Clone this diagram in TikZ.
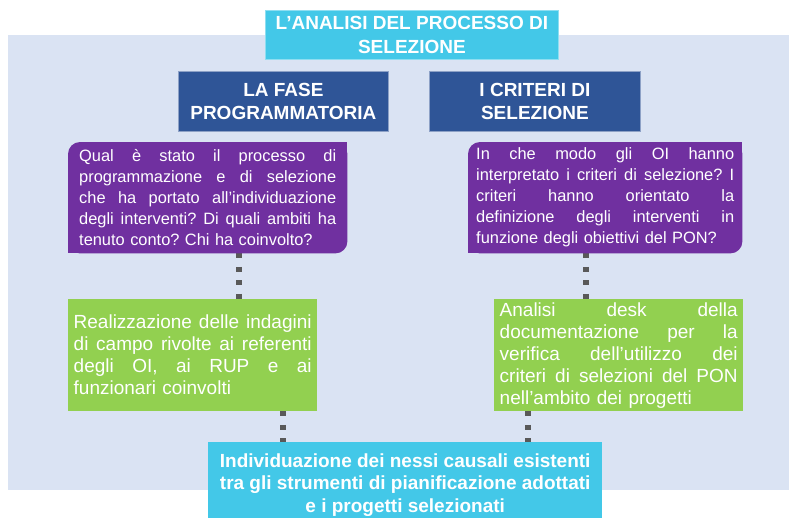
\documentclass[tikz,border=0pt]{standalone}
\usepackage{fontspec}
\setmainfont{Liberation Sans}
\frenchspacing
\pgfdeclarelayer{bg}
\pgfsetlayers{bg,main}
\definecolor{bgblue}{RGB}{218,227,243}
\definecolor{cyanbox}{RGB}{67,200,232}
\definecolor{navy}{RGB}{47,85,151}
\definecolor{purp}{RGB}{112,48,160}
\definecolor{grn}{RGB}{146,208,80}
\definecolor{dotgray}{RGB}{89,89,89}
\newcommand\jl[1]{\noindent\hbox to\hsize{\spaceskip=0.278em plus 1fil\relax\xspaceskip=\spaceskip #1}}
\begin{document}
\begin{tikzpicture}[x=1pt,y=-1pt,
  box/.style={inner sep=0pt, text=white, anchor=north west},
  headbox/.style={box, fill=navy, draw=navy!55!white, line width=0.8pt, align=center,
    minimum height=60pt, font=\bfseries\fontsize{19}{23}\selectfont},
  qbox/.style={box, align=left, minimum height=111pt, font=\fontsize{16.4}{21}\selectfont\frenchspacing},
  gbox/.style={box, fill=grn, align=left, minimum height=112pt, minimum width=249pt,
    text width=238pt, font=\fontsize{19}{22}\selectfont\frenchspacing},
  dotline/.style={dotgray, line width=5.5pt, dash pattern=on 5pt off 8.5pt},
  qshape/.style={purp}]
\useasboundingbox (0,0) rectangle (789,517);

% title and headings
\node[box, fill=cyanbox, draw=cyanbox!60!white, line width=0.8pt, align=center,
  minimum width=293pt, minimum height=49pt,
  font=\bfseries\fontsize{19}{24}\selectfont] (title) at (265,10)
  {L’ANALISI DEL PROCESSO DI\\SELEZIONE};
\node[headbox, minimum width=210pt] (h1) at (178,71) {LA FASE\\PROGRAMMATORIA};
\node[headbox, minimum width=211pt] (h2) at (429,71) {I CRITERI DI\\SELEZIONE};

% questions
\node[qbox, minimum width=279pt, text width=257pt] (q1) at (68,142)
  {\jl{Qual è stato il processo di}\\
   \jl{programmazione e di selezione}\\
   \jl{che ha portato all’individuazione}\\
   \jl{degli interventi? Di quali ambiti ha}\\
   tenuto conto? Chi ha coinvolto?};
\node[qbox, minimum width=274pt, text width=258pt] (q2) at (468,142)
  {\jl{In che modo gli OI hanno}\\
   \jl{interpretato i criteri di selezione? I}\\
   \jl{criteri hanno orientato la}\\
   \jl{definizione degli interventi in}\\
   funzione degli obiettivi del PON?};

% activities
\node[gbox] (g1) at (68,299)
  {\jl{Realizzazione delle indagini}\\
   \jl{di campo rivolte ai referenti}\\
   \jl{degli OI, ai RUP e ai}\\
   funzionari coinvolti};
\node[gbox] (g2) at (494,299)
  {\jl{Analisi desk della}\\
   \jl{documentazione per la}\\
   \jl{verifica dell’utilizzo dei}\\
   \jl{criteri di selezioni del PON}\\
   nell’ambito dei progetti};

% result
\node[box, fill=cyanbox, align=center, minimum width=394pt, minimum height=85pt,
  font=\bfseries\fontsize{19}{22.5}\selectfont] (res) at (208,442)
  {Individuazione dei nessi causali esistenti\\
   tra gli strumenti di pianificazione adottati\\
   e i progetti selezionati};

\begin{pgfonlayer}{bg}
  \fill[bgblue] (8,35) rectangle (789,490);
  % connectors
  \draw[dotline] (239,0 |- q1.south) -- (239,0 |- g1.north);
  \draw[dotline] (586,0 |- q2.south) -- (586,0 |- g2.north);
  \draw[dotline] (283,0 |- g1.south) -- (283,0 |- res.north);
  \draw[dotline] (528,0 |- g2.south) -- (528,0 |- res.north);
  % purple question shapes
  \foreach \q in {q1,q2}{
    \fill[qshape, rounded corners=12pt] (\q.north west) rectangle (\q.south east);
    \fill[qshape] (\q.north east) rectangle ([xshift=-20pt,yshift=-20pt]\q.north east);
    \fill[qshape] (\q.south west) rectangle ([xshift=20pt,yshift=20pt]\q.south west);
  }
\end{pgfonlayer}
\end{tikzpicture}
\end{document}
